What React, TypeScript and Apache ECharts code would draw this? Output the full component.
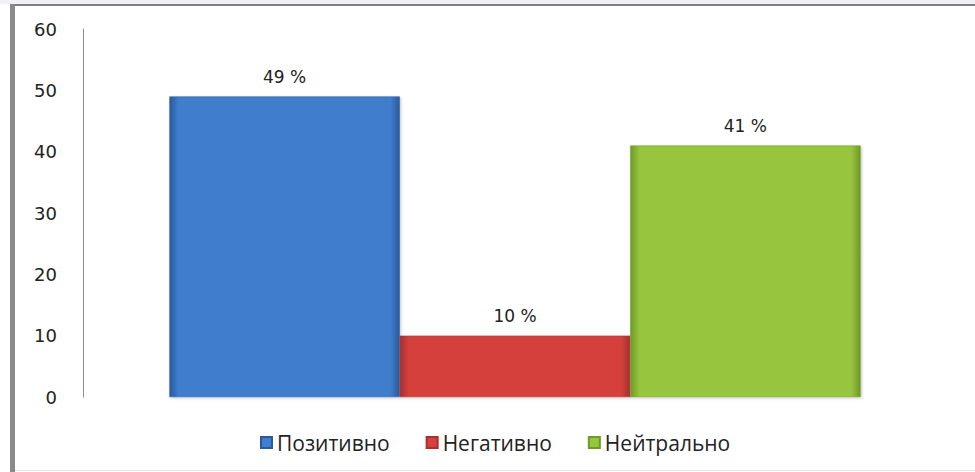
import React, { useEffect, useRef } from "react";
import * as echarts from "echarts";

const categories = [""];
const seriesNames = ["Позитивно", "Негативно", "Нейтрально"];
const seriesValues = [[49], [10], [41]];
const yTicks = { min: 0, max: 60, interval: 10 };

const palettes = [
  { edge: "#2a5a9c", mid: "#3f7ecd", light: "#5c98e0" },
  { edge: "#a8302d", mid: "#d5413e", light: "#e86562" },
  { edge: "#6e9a28", mid: "#97c53d", light: "#b0d95a" },
];

export default function App() {
  const ref = useRef<HTMLDivElement>(null);
  useEffect(() => {
    if (!ref.current) return;
    const chart = echarts.init(ref.current, undefined, { renderer: "svg" });
    const series = seriesNames.map((name, i) => {
      const p = palettes[i];
      return {
        name,
        type: "bar",
        data: seriesValues[i],
        barGap: "0%",
        barCategoryGap: "20%",
        itemStyle: {
          color: new echarts.graphic.LinearGradient(0, 0, 1, 0, [
            { offset: 0, color: p.edge },
            { offset: 0.04, color: p.mid },
            { offset: 0.96, color: p.mid },
            { offset: 1, color: p.edge },
          ]),
          borderColor: p.edge,
          borderWidth: 0.5,
          shadowColor: "rgba(0,0,0,0.25)",
          shadowBlur: 3,
          shadowOffsetX: 1,
          shadowOffsetY: 1,
        },
        label: {
          show: true,
          position: "top",
          distance: 11,
          formatter: (d: any) => `${d.value} %`,
          fontFamily: "DejaVu Sans",
          fontSize: 17,
          color: "#222",
        },
      };
    });
    chart.setOption({
      animation: false,
      backgroundColor: "#ffffff",
      color: palettes.map((p) => p.mid),
      grid: { left: 83, right: 28, top: 29, bottom: 75 },
      xAxis: {
        type: "category",
        data: categories,
        axisLine: { show: false },
        axisTick: { show: false },
        axisLabel: { show: false },
      },
      yAxis: {
        type: "value",
        min: yTicks.min,
        max: yTicks.max,
        interval: yTicks.interval,
        axisLine: { show: true, lineStyle: { color: "#8c8c8c", width: 1 } },
        axisTick: { show: false },
        splitLine: { show: false },
        axisLabel: {
          margin: 26,
          fontFamily: "DejaVu Sans",
          fontSize: 18,
          color: "#222",
        },
      },
      legend: {
        data: seriesNames,
        left: 255,
        top: 427,
        icon: "rect",
        itemWidth: 11,
        itemHeight: 11,
        itemGap: 36,
        textStyle: {
          fontFamily: "Open Sans",
          fontSize: 21,
          color: "#222",
        },
      },
      graphic: [
        { type: "rect", shape: { x: 0, y: 0, width: 975, height: 4 }, style: { fill: "#eef2f8" }, silent: true },
        { type: "rect", shape: { x: 10, y: 4, width: 965, height: 2 }, style: { fill: "#7f7f7f" }, silent: true },
        { type: "rect", shape: { x: 10, y: 4, width: 5, height: 468 }, style: { fill: "#8a8a8a" }, silent: true },
        { type: "rect", shape: { x: 15, y: 470, width: 960, height: 1 }, style: { fill: "#e2e2e2" }, silent: true },
      ],
      series,
    });
    return () => chart.dispose();
  }, []);
  return (
    <div
      ref={ref}
      style={{ position: "fixed", left: 0, top: 0, width: 975, height: 472 }}
    />
  );
}
